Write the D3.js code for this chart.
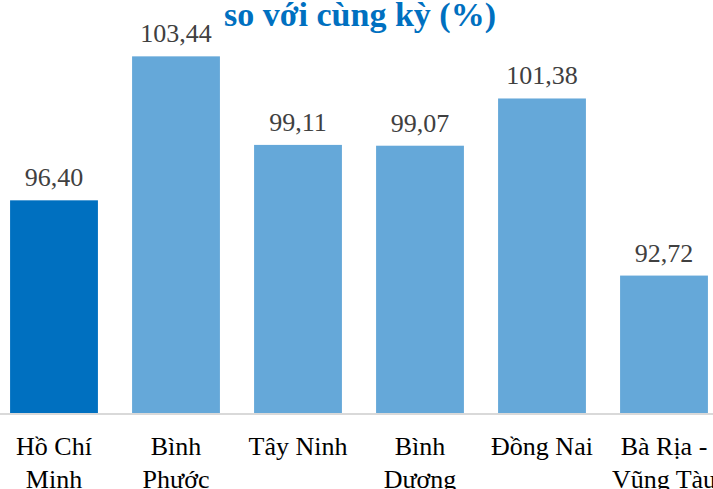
<!DOCTYPE html>
<html>
<head>
<meta charset="utf-8">
<script src="https://cdn.jsdelivr.net/npm/d3@7"></script>
<style>
  html, body { margin: 0; padding: 0; background: #fff; }
  svg { display: block; }
</style>
</head>
<body>
<svg id="chart" width="713" height="489"></svg>
<script>
// Provinces (category labels, split into lines) and year-on-year index (%)
const provinces = ["Hồ Chí Minh", "Bình Phước", "Tây Ninh", "Bình Dương", "Đồng Nai", "Bà Rịa - Vũng Tàu"];
const provinceLines = [["Hồ Chí", "Minh"], ["Bình", "Phước"], ["Tây Ninh"], ["Bình", "Dương"], ["Đồng Nai"], ["Bà Rịa -", "Vũng Tàu"]];
const values = [96.40, 103.44, 99.11, 99.07, 101.38, 92.72];
const valueLabels = ["96,40", "103,44", "99,11", "99,07", "101,38", "92,72"];
const titleText = "so với cùng kỳ (%)";

const svg = d3.select("#chart");
const serif = "'Liberation Serif', 'Times New Roman', serif";

const x = d3.scaleBand()
  .domain(provinces)
  .range([-7, 725])
  .paddingInner(0.28)
  .paddingOuter(0.14);

const y = d3.scaleLinear()
  .domain([86, 106])
  .range([413, 4]);

// Title (second line of a wrapped heading)
svg.append("text")
  .attr("x", 360)
  .attr("y", 26)
  .attr("text-anchor", "middle")
  .attr("font-family", serif)
  .attr("font-weight", "bold")
  .attr("font-size", 34)
  .attr("fill", "#0070C0")
  .text(titleText);

// Bars
svg.append("g").selectAll("rect")
  .data(provinces)
  .join("rect")
  .attr("x", d => x(d))
  .attr("width", x.bandwidth())
  .attr("y", (d, i) => y(values[i]))
  .attr("height", (d, i) => y.range()[0] - y(values[i]))
  .attr("fill", (d, i) => i === 0 ? "#0070C0" : "#65A8D9");

// Category axis baseline
svg.append("line")
  .attr("x1", 0).attr("x2", 713)
  .attr("y1", 414).attr("y2", 414)
  .attr("stroke", "#D9D9D9")
  .attr("stroke-width", 2);

// Value labels above bars
svg.append("g").selectAll("text")
  .data(provinces)
  .join("text")
  .attr("x", d => x(d) + x.bandwidth() / 2)
  .attr("y", (d, i) => y(values[i]) - 14)
  .attr("text-anchor", "middle")
  .attr("font-family", serif)
  .attr("font-size", 26)
  .attr("fill", "#404040")
  .text((d, i) => valueLabels[i]);

// Category labels
const cat = svg.append("g").selectAll("text")
  .data(provinces)
  .join("text")
  .attr("x", d => x(d) + x.bandwidth() / 2)
  .attr("y", 455)
  .attr("text-anchor", "middle")
  .attr("font-family", serif)
  .attr("font-size", 26)
  .attr("fill", "#000");

cat.each(function(d, i) {
  const t = d3.select(this);
  const cx = x(d) + x.bandwidth() / 2;
  provinceLines[i].forEach((line, j) => {
    t.append("tspan")
      .attr("x", cx)
      .attr("dy", j === 0 ? 0 : 33)
      .text(line);
  });
});
</script>
</body>
</html>
